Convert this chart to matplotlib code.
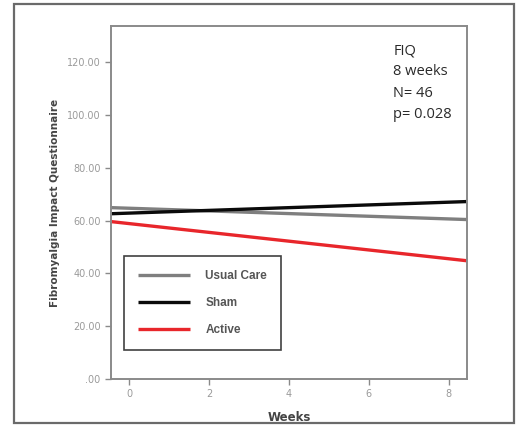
import matplotlib.pyplot as plt
from matplotlib.patches import Rectangle

# fitted lines span the full x range of the plot
weeks = [-0.45, 8.45]
usual_care = [64.9, 60.4]
sham = [62.6, 67.2]
active = [59.6, 44.8]
yticks = [0, 20, 40, 60, 80, 100, 120]
ytick_labels = ['.00', '20.00', '40.00', '60.00', '80.00', '100.00', '120.00']
xticks = [0, 2, 4, 6, 8]
note = 'FIQ\n8 weeks\nN= 46\np= 0.028'

W, H = 519, 425
fig = plt.figure(figsize=(W / 100, H / 100), dpi=100)
ax = fig.add_axes([111 / W, 1 - 379 / H, (467 - 111) / W, (379 - 26) / H])

# outer frame around the whole picture
fig.patches.append(Rectangle((14 / W, 1 - 423 / H), 500 / W, 419 / H,
                             transform=fig.transFigure, fill=False,
                             edgecolor='#6a6a6a', linewidth=1.6))

ax.plot(weeks, usual_care, color='#7f7f7f', linewidth=2.4, label='Usual Care',
        solid_capstyle='butt')
ax.plot(weeks, sham, color='#0a0a0a', linewidth=2.4, label='Sham',
        solid_capstyle='butt')
ax.plot(weeks, active, color='#e8262b', linewidth=2.4, label='Active',
        solid_capstyle='butt')

ax.set_xlim(-0.46, 8.46)
ax.set_ylim(0, 133.7)
ax.set_yticks(yticks)
ax.set_yticklabels(ytick_labels)
ax.set_xticks(xticks)

for s in ax.spines.values():
    s.set_color('#8a8a8a')
    s.set_linewidth(1.4)
ax.tick_params(axis='both', colors='#8a8a8a', labelcolor='#9a9a9a',
               labelsize=7, length=4, width=1)

ax.set_ylabel('Fibromyalgia Impact Questionnaire', fontsize=7.5,
              fontweight='bold', color='#444444', labelpad=5)
ax.set_xlabel('Weeks', fontsize=8.5, fontweight='bold', color='#444444',
              labelpad=8)

ax.text(0.793, 0.84, note, transform=ax.transAxes, fontsize=10.5,
        color='#2a2a2a', va='center', ha='left', linespacing=1.55,
        family='Open Sans')

leg = ax.legend(loc='upper left', bbox_to_anchor=(13 / 356, (379 - 256) / 353),
                frameon=True, fancybox=False, edgecolor='#111111',
                handlelength=4.4, handletextpad=1.3, labelspacing=1.25,
                borderpad=1.2, fontsize=8.5, borderaxespad=0)
leg.get_frame().set_linewidth(1.2)
for t in leg.get_texts():
    t.set_color('#555555')
    t.set_fontweight('bold')
    t.set_fontfamily('Liberation Sans')

fig.savefig('out.png', dpi=100)
